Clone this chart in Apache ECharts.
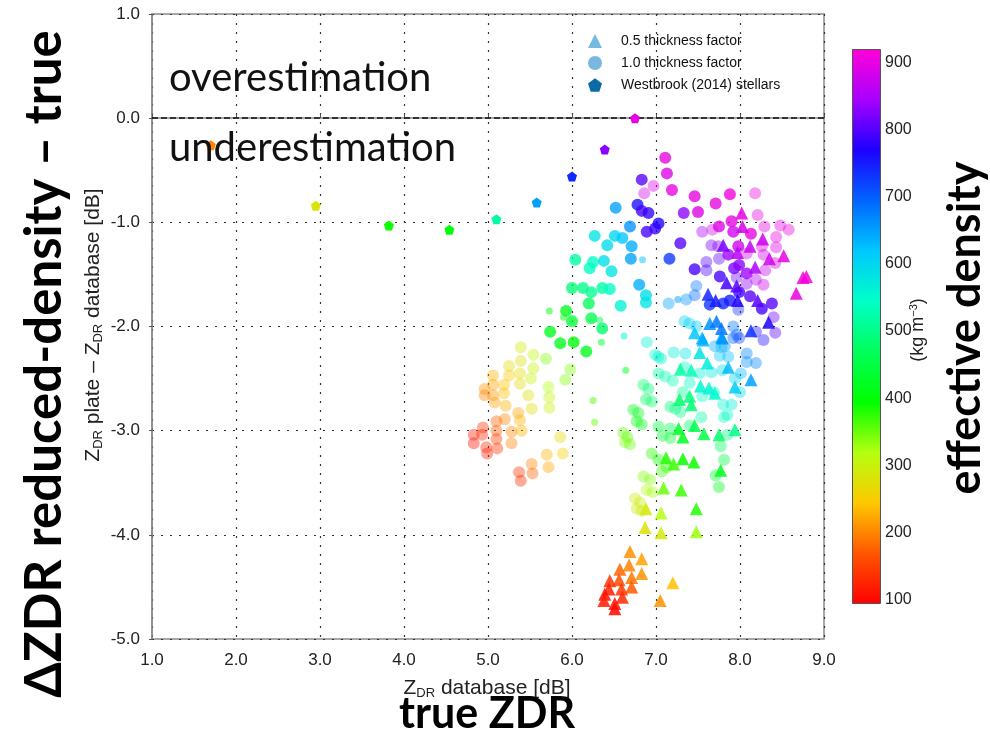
<!DOCTYPE html>
<html>
<head>
<meta charset="utf-8">
<script src="https://cdn.jsdelivr.net/npm/echarts@6/dist/echarts.min.js"></script>
<style>
  html, body { margin: 0; padding: 0; background: #ffffff; }
  #chart { width: 990px; height: 740px; }
</style>
</head>
<body>
<div id="chart"></div>
<script>
// ---- axis ticks ----
const xTicks = [1, 2, 3, 4, 5, 6, 7, 8, 9];
const yTicks = [-5, -4, -3, -2, -1, 0, 1];
const densityTicks = [100, 200, 300, 400, 500, 600, 700, 800, 900];

// ---- data: [ZDR database (dB), ZDR plate - ZDR database (dB), effective density (kg m-3)] ----

// 0.5 thickness factor
const halfThickness = [
  [6.69,-4.16,210],[6.83,-4.23,220],[6.68,-4.29,200],[6.57,-4.33,180],[6.71,-4.41,190],[6.83,-4.37,210],
  [6.56,-4.43,160],[6.45,-4.44,140],[6.71,-4.50,170],[6.59,-4.52,140],[6.44,-4.52,120],[6.39,-4.57,110],
  [6.60,-4.60,130],[6.38,-4.63,120],[6.51,-4.66,110],[6.51,-4.71,100],[7.20,-4.46,240],[7.05,-4.63,210],
  [6.88,-3.75,290],[7.06,-3.79,320],[6.87,-3.93,280],[7.06,-3.98,290],[7.48,-3.75,380],[7.48,-3.97,330],
  [7.09,-3.55,350],[7.30,-3.57,370],[7.12,-3.26,380],[7.32,-3.27,390],[7.21,-3.32,370],[7.45,-3.30,390],
  [7.27,-2.98,430],[7.32,-3.06,420],[7.57,-3.03,450],[7.75,-3.04,480],[7.94,-2.99,500],[7.77,-3.38,420],
  [7.46,-2.95,460],[7.28,-2.70,480],[7.40,-2.67,490],[7.42,-2.75,490],
  [7.29,-2.41,520],[7.42,-2.42,530],[7.52,-2.25,580],[7.61,-2.35,570],[7.86,-2.39,630],[8.13,-2.51,650],
  [7.53,-2.57,560],[7.63,-2.59,560],[7.70,-2.64,550],[7.94,-2.58,610],[7.56,-2.13,630],[7.78,-2.10,640],
  [8.13,-2.04,730],[8.34,-1.96,770],[7.46,-2.06,620],[7.64,-1.97,660],[7.72,-1.95,680],[7.78,-2.02,680],
  [7.55,-2.11,640],[7.79,-2.11,660],
  [8.02,-0.91,900],[8.03,-1.04,880],[8.27,-1.16,880],[8.12,-1.23,870],[7.97,-1.29,860],[7.80,-1.22,820],
  [8.35,-1.35,880],[8.52,-1.32,900],[8.18,-1.43,850],[8.75,-1.53,910],[8.79,-1.52,910],[8.67,-1.68,900],
  [7.84,-1.58,790],[7.96,-1.61,800],[7.62,-1.69,740],[7.71,-1.75,750],[7.97,-1.75,770],[8.21,-1.75,800]
];

// 1.0 thickness factor, strongly drawn points
const fullThicknessSolid = [
  [6.04,-1.36,520],[6.25,-1.38,540],[6.21,-1.44,540],[6.27,-1.13,580],[6.51,-1.13,600],[6.42,-1.22,590],
  [6.38,-1.37,590],[6.47,-1.47,580],[6.60,-1.15,620],[6.71,-1.23,640],[6.69,-1.04,660],[6.70,-1.35,650],
  [6.80,-1.60,640],[6.00,-1.63,490],[6.13,-1.63,500],[6.23,-1.67,510],[6.36,-1.63,520],[6.45,-1.64,540],
  [6.20,-1.78,470],[6.58,-1.80,560],[5.93,-1.85,420],[6.00,-1.95,440],[6.23,-1.92,460],[6.36,-2.02,480],
  [5.74,-2.05,420],[5.86,-2.16,420],[6.02,-2.15,400],[6.17,-2.24,420],[6.88,-1.70,590],[6.88,-1.77,580],
  [6.52,-0.86,650],[6.78,-0.83,760],[6.83,-0.89,790],[6.91,-0.91,780],[6.83,-0.59,800],[7.03,-1.01,770],
  [6.99,-1.06,780],[6.89,-1.09,790],[7.16,-1.35,730],[7.29,-1.20,800],[7.46,-1.45,790],[7.64,-1.79,730],
  [7.80,-1.78,740],[7.88,-1.75,750],
  [7.11,-0.38,900],[7.13,-0.53,890],[7.19,-0.69,900],[7.46,-0.75,900],[7.88,-0.73,910],[7.71,-0.82,900],
  [7.50,-0.90,890],[7.33,-0.91,830],[7.90,-0.99,900],[7.92,-1.09,880],[8.13,-1.11,900],[7.75,-1.04,890],
  [7.98,-1.23,880],[7.86,-1.31,840],[7.93,-1.44,820],[7.99,-1.41,830],[8.08,-1.49,840],[7.76,-1.52,790],
  [7.99,-1.67,790],[8.12,-1.71,800],[8.26,-1.83,790],[8.38,-1.78,800]
];

// 1.0 thickness factor, faint points
const fullThicknessFaint = [
  [5.39,-2.20,290],[5.54,-2.27,310],[5.69,-2.31,340],[5.25,-2.38,270],[5.39,-2.33,280],[5.54,-2.40,300],
  [5.38,-2.45,270],[5.25,-2.47,250],[5.06,-2.47,230],[5.51,-2.50,300],[5.06,-2.56,220],[5.19,-2.56,240],
  [5.38,-2.55,270],[4.96,-2.60,210],[5.06,-2.66,210],[4.96,-2.66,200],[5.19,-2.64,240],[5.48,-2.66,280],
  [5.72,-2.58,320],[5.73,-2.68,300],[5.08,-2.73,220],[5.21,-2.76,230],[5.52,-2.79,270],[5.73,-2.78,300],
  [5.36,-2.83,220],[5.20,-2.89,200],[5.10,-2.91,180],[5.38,-2.90,230],[4.94,-2.97,140],[5.10,-3.00,170],
  [5.28,-3.01,200],[5.40,-3.00,230],[4.83,-3.04,120],[4.93,-3.04,130],[5.10,-3.08,150],[4.83,-3.12,110],
  [5.28,-3.12,200],[4.98,-3.16,130],[5.11,-3.17,140],[4.99,-3.22,120],[5.86,-3.06,270],[5.89,-3.22,260],
  [5.70,-3.23,230],[5.72,-3.35,220],[5.52,-3.32,200],[5.53,-3.41,180],[5.37,-3.40,140],[5.39,-3.48,130],
  [5.98,-2.41,340],[5.92,-2.51,340],
  [6.73,-2.80,420],[6.79,-2.83,420],[6.77,-2.91,400],[6.83,-2.94,410],[7.03,-2.96,450],[7.17,-2.98,460],
  [7.40,-2.95,480],[7.08,-3.05,430],[7.17,-3.07,440],[6.61,-3.02,350],[6.66,-3.06,360],[6.63,-3.11,340],
  [6.69,-3.13,350],[7.85,-3.04,500],[7.77,-3.15,470],[7.81,-3.28,460],[6.95,-3.22,380],[7.03,-3.28,390],
  [7.13,-3.35,380],[7.07,-3.39,370],[6.85,-3.44,340],[6.93,-3.47,340],[7.71,-3.43,430],[6.89,-3.57,320],
  [6.96,-3.59,330],[6.75,-3.65,290],[6.81,-3.69,300],[6.77,-3.75,290],[6.83,-3.77,300],[7.75,-3.54,420],
  [6.85,-2.56,480],[6.91,-2.60,490],[6.88,-2.70,470],[6.95,-2.72,480],[7.17,-2.77,490],[7.23,-2.79,500],
  [7.29,-2.82,500],[7.80,-2.75,560],[7.90,-2.75,570],[7.85,-2.85,550],[7.54,-2.87,520],[7.81,-2.87,540],
  [7.03,-2.45,520],[7.11,-2.48,530],[7.20,-2.52,530],[7.40,-2.54,550],[7.55,-2.67,540],[7.69,-2.63,560],
  [8.00,-2.63,590],[7.32,-2.63,520],[7.34,-2.39,540],[7.52,-2.45,560],[7.66,-2.44,570],[7.79,-2.42,590],
  [8.01,-2.45,630],[7.94,-2.50,600],[6.99,-2.27,550],[7.06,-2.31,550],[7.21,-2.25,570],[7.35,-2.26,580],
  [7.03,-2.29,560],[7.76,-2.28,620],[7.86,-2.29,630],[8.08,-2.34,660],[8.19,-2.35,670],[7.78,-2.20,630],
  [7.70,-2.19,640],[7.82,-2.19,650],[8.08,-2.26,670],[6.89,-2.15,560],
  [7.34,-1.95,600],[7.40,-1.97,610],[7.48,-2.00,620],[7.92,-2.00,680],[7.96,-2.08,690],[7.92,-2.11,700],
  [7.99,-2.11,720],[8.19,-2.05,760],[8.28,-2.13,760],[8.42,-2.06,800],[8.40,-1.91,810],[7.98,-1.84,730],
  [7.46,-1.70,690],[7.48,-1.61,680],[7.36,-1.74,660],[7.15,-1.78,650],
  [6.97,-0.65,890],[6.86,-0.72,880],[8.18,-0.72,910],[8.21,-0.93,900],[8.29,-1.04,900],[8.43,-1.14,900],
  [8.48,-1.03,900],[8.58,-1.07,900],[8.26,-1.23,890],[8.43,-1.24,890],[8.28,-1.31,880],[8.42,-1.39,880],
  [8.30,-1.46,870],[8.28,-1.60,880],[8.19,-1.55,860],[7.55,-1.09,850],[7.67,-1.07,880],[7.60,-1.38,800],
  [7.66,-1.22,820],[7.74,-1.23,830],[8.08,-1.30,880],[7.96,-1.53,810],[8.08,-1.59,830],[7.60,-1.46,790],
  [7.75,-1.35,800]
];

// 1.0 thickness factor, small points
const fullThicknessSmall = [
  [6.25,-2.71,360],[6.27,-2.92,350],[6.64,-2.42,420],[6.35,-2.15,430],[5.73,-1.85,400],[5.90,-1.91,410],
  [6.33,-1.94,470],[6.62,-2.09,560],[6.84,-1.36,620],[7.26,-1.74,650]
];

// Westbrook (2014) stellar crystals
const westbrookStellars = [
  [1.70,-0.26,200],[2.95,-0.84,285],[3.82,-1.03,390],[4.54,-1.07,400],[5.10,-0.97,520],
  [5.58,-0.81,650],[6.00,-0.56,740],[6.39,-0.30,830],[6.75,0.00,900]
];

// ---- colour scale (rainbow, red -> magenta) ----
const densityMin = 95, densityMax = 920;
const rainbow = ['#ff0000','#ff5600','#ffc800','#b4ff10','#00ff00','#00ff5a',
                 '#00ffc8','#00c8ff','#0064ff','#1e00ff','#a800ff','#ff00d8'];

const pentagon = 'path://M0,-10L9.51,-3.09L5.88,8.09L-5.88,8.09L-9.51,-3.09Z';
const narrowFont = '"Liberation Sans Narrow", "Liberation Sans", Arial, sans-serif';
const plainFont = '"Liberation Sans", Arial, sans-serif';
const titleFont = 'Lato, "Open Sans", sans-serif';

const chart = echarts.init(document.getElementById('chart'), null, { renderer: 'canvas' });

const gradStops = rainbow.map((c, i) => ({ offset: i / (rainbow.length - 1), color: c }));

const option = {
  backgroundColor: '#ffffff',
  animation: false,
  grid: [
    { left: 152, right: 166, top: 14, bottom: 101, show: true, borderColor: '#8a8a8a', borderWidth: 1.5, backgroundColor: 'transparent' },
    { left: 852, top: 49, width: 28, height: 554, show: false }
  ],
  xAxis: [
    {
      type: 'value', min: xTicks[0], max: xTicks[xTicks.length - 1], interval: 1, gridIndex: 0,
      axisLine: { lineStyle: { color: '#8a8a8a', width: 1.5 } },
      axisTick: { inside: true, length: 4, lineStyle: { color: '#555' } },
      axisLabel: { formatter: v => v.toFixed(1), fontFamily: narrowFont, fontSize: 17, color: '#222', margin: 13 },
      splitLine: { show: true, lineStyle: { type: [2, 7], color: '#333', width: 1.2 } }
    },
    { type: 'value', gridIndex: 1, show: false, min: 0, max: 1 }
  ],
  yAxis: [
    {
      type: 'value', min: yTicks[0], max: yTicks[yTicks.length - 1], interval: 1, gridIndex: 0,
      axisLine: { lineStyle: { color: '#8a8a8a', width: 1.5 } },
      axisTick: { inside: false, length: 3, lineStyle: { color: '#555' } },
      axisLabel: { formatter: v => v.toFixed(1), fontFamily: narrowFont, fontSize: 17, color: '#222', margin: 12 },
      splitLine: { show: true, lineStyle: { type: [2, 7], color: '#333', width: 1.2 } }
    },
    {
      type: 'value', gridIndex: 1, min: densityMin, max: densityMax, position: 'right',
      axisLine: { show: false },
      axisTick: { show: true, inside: false, length: 4, customValues: densityTicks, lineStyle: { color: '#333' } },
      axisLabel: { show: true, customValues: densityTicks, fontFamily: plainFont, fontSize: 16, color: '#222', margin: 5 },
      splitLine: { show: false }
    }
  ],
  visualMap: {
    type: 'continuous', show: false, dimension: 2,
    min: densityMin, max: densityMax, seriesIndex: [0, 1, 2, 3, 4],
    inRange: { color: rainbow }
  },
  legend: {
    orient: 'vertical', left: 583, top: 29, itemGap: 8, itemWidth: 14, itemHeight: 14,
    textStyle: { fontFamily: plainFont, fontSize: 14, color: '#111', padding: [0, 0, 0, 14] },
    data: [
      { name: '0.5 thickness factor', icon: 'triangle', itemStyle: { color: '#5aaedd', opacity: 0.85 } },
      { name: '1.0 thickness factor', icon: 'circle', itemStyle: { color: '#3f9ad2', opacity: 0.7 } },
      { name: 'Westbrook (2014) stellars', icon: pentagon, itemStyle: { color: '#0b6aa8', opacity: 1 } }
    ]
  },
  series: [
    {
      name: '1.0 thickness factor', type: 'scatter', data: fullThicknessFaint,
      symbol: 'circle', symbolSize: 12, itemStyle: { opacity: 0.4 }, z: 2
    },
    {
      name: '1.0 thickness factor', type: 'scatter', data: fullThicknessSmall,
      symbol: 'circle', symbolSize: 7, itemStyle: { opacity: 0.5 }, z: 3
    },
    {
      name: '1.0 thickness factor', type: 'scatter', data: fullThicknessSolid,
      symbol: 'circle', symbolSize: 12, itemStyle: { opacity: 0.78 }, z: 4
    },
    {
      name: '0.5 thickness factor', type: 'scatter', data: halfThickness,
      symbol: 'triangle', symbolSize: 13, itemStyle: { opacity: 0.85 }, z: 5,
      markLine: {
        silent: true, symbol: 'none', label: { show: false },
        lineStyle: { type: [6, 3], color: '#111', width: 1.5 },
        data: [{ yAxis: 0 }]
      }
    },
    {
      name: 'Westbrook (2014) stellars', type: 'scatter', data: westbrookStellars,
      symbol: pentagon, symbolSize: 10, itemStyle: { opacity: 1 }, z: 6
    }
  ],
  graphic: [
    // colour bar
    {
      type: 'rect', left: 852, top: 49, z: 1,
      shape: { width: 28, height: 554 },
      style: { fill: new echarts.graphic.LinearGradient(0, 1, 0, 0, gradStops), stroke: '#555', lineWidth: 1 }
    },
    {
      type: 'text', x: 918, y: 330, rotation: Math.PI / 2, z: 10,
      style: {
        text: '{a|(kg m}{s|−3}{a|)}', align: 'center', verticalAlign: 'middle',
        rich: {
          a: { fontFamily: narrowFont, fontSize: 18, fill: '#222', lineHeight: 20 },
          s: { fontFamily: narrowFont, fontSize: 11, fill: '#222', lineHeight: 11, verticalAlign: 'top' }
        }
      }
    },
    // axis titles
    {
      type: 'text', x: 487, y: 688, z: 10,
      style: {
        text: '{a|Z}{s|DR}{a| database [dB]}', align: 'center', verticalAlign: 'middle',
        rich: {
          a: { fontFamily: narrowFont, fontSize: 21, fill: '#222', lineHeight: 24 },
          s: { fontFamily: narrowFont, fontSize: 13, fill: '#222', lineHeight: 13, verticalAlign: 'bottom' }
        }
      }
    },
    {
      type: 'text', x: 93, y: 325, rotation: Math.PI / 2, z: 10,
      style: {
        text: '{a|Z}{s|DR}{a| plate – Z}{s|DR}{a| database [dB]}', align: 'center', verticalAlign: 'middle',
        rich: {
          a: { fontFamily: narrowFont, fontSize: 21, fill: '#222', lineHeight: 24 },
          s: { fontFamily: narrowFont, fontSize: 13, fill: '#222', lineHeight: 13, verticalAlign: 'bottom' }
        }
      }
    },
    // big annotation titles
    {
      type: 'text', x: 45, y: 364, rotation: Math.PI / 2, z: 10,
      style: { text: 'ΔZDR reduced-density – true', align: 'center', verticalAlign: 'middle',
               font: 'bold 51px ' + titleFont, fill: '#000' }
    },
    {
      type: 'text', x: 487, y: 714, z: 10,
      style: { text: 'true ZDR', align: 'center', verticalAlign: 'middle',
               font: 'bold 43px ' + titleFont, fill: '#000' }
    },
    {
      type: 'text', x: 965, y: 328, rotation: Math.PI / 2, z: 10,
      style: { text: 'effective density', align: 'center', verticalAlign: 'middle',
               font: 'bold 45px ' + titleFont, fill: '#000' }
    },
    {
      type: 'text', x: 169, y: 78, z: 10,
      style: { text: 'overestimation', align: 'left', verticalAlign: 'middle',
               font: '40px ' + titleFont, fill: '#111' }
    },
    {
      type: 'text', x: 169, y: 148, z: 10,
      style: { text: 'underestimation', align: 'left', verticalAlign: 'middle',
               font: '40px ' + titleFont, fill: '#111' }
    }
  ]
};

chart.setOption(option);
</script>
</body>
</html>
